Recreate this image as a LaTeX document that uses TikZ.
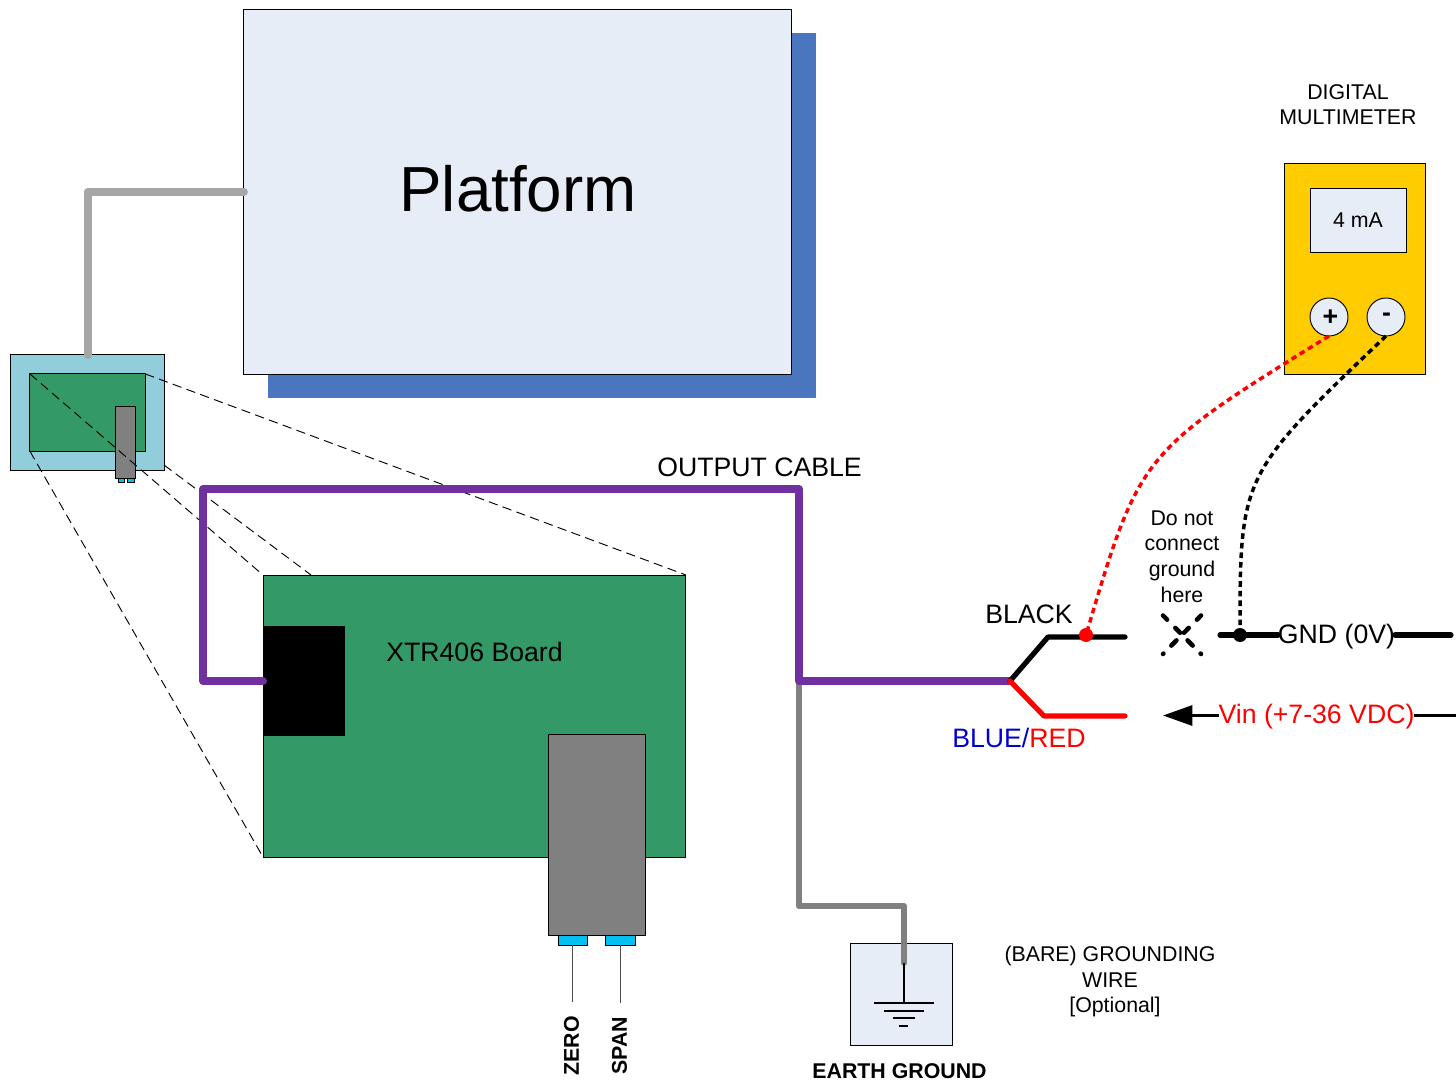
\documentclass[tikz,border=0pt]{standalone}
\usepackage{fontspec}
\setmainfont{Liberation Sans}
\usetikzlibrary{fit,arrows.meta,calc}
\definecolor{paleblue}{HTML}{E7EDF7}
\definecolor{shadowblue}{HTML}{4A76C0}
\definecolor{boardgreen}{HTML}{339966}
\definecolor{enclosure}{HTML}{92CDDC}
\definecolor{housing}{HTML}{808080}
\definecolor{potcyan}{HTML}{00C0F0}
\definecolor{cablepurple}{HTML}{7030A0}
\definecolor{wiregrey}{HTML}{A6A6A6}
\definecolor{meteryellow}{HTML}{FFCC00}
\definecolor{labelblue}{HTML}{0000CC}
\tikzset{
  box/.style={fit={#1},inner sep=0pt,outer sep=0pt,draw=black,line width=.7pt,rectangle},
  lab/.style={inner sep=0pt,outer sep=0pt,font=\fontsize{20}{24}\selectfont,text=black},
  smalllab/.style={inner sep=0pt,outer sep=0pt,align=center,font=\fontsize{16}{19.2}\selectfont,text=black},
  boldlab/.style={inner sep=0pt,outer sep=0pt,font=\fontsize{16}{19.2}\selectfont\bfseries,text=black},
  zoomline/.style={draw=black,line width=.7pt,dash pattern=on 7pt off 4pt},
  lead/.style={draw=black!70,line width=.75pt},
  cable/.style={draw=cablepurple,line width=6pt,line join=round,line cap=round},
  wire/.style={line width=3.9pt,line join=round,line cap=round},
  groundbar/.style={draw=black,line width=2.2pt},
  probe/.style={line width=2.6pt,dash pattern=on 4.2pt off 3pt,line cap=butt},
  nox/.style={draw=black,line width=3.4pt,line cap=round,dash pattern=on 4.4pt off 8.7pt on 5.1pt off 8pt on 5.5pt off 8.4pt on 1.5pt off 20pt},
  dot/.style={circle,minimum size=10.5pt,inner sep=0pt,outer sep=0pt},
  terminal/.style={circle,draw=black,fill=paleblue,line width=.7pt,minimum size=28.5pt,inner sep=0pt,outer sep=0pt},
  termsign/.style={inner sep=0pt,outer sep=0pt,font=\fontsize{20}{24}\selectfont\bfseries},
}
\begin{document}
\begin{tikzpicture}[x=.75pt,y=-.75pt]
\useasboundingbox (0,0) rectangle (1456,1080);
% platform
\node[fit={(268,33)(816,398)},inner sep=0pt,outer sep=0pt,fill=shadowblue] (shadow) {};
\node[box={(243.9,9.9)(791.2,374.1)},fill=paleblue] (platform) {};
\node[lab,font=\fontsize{47.8}{56}\selectfont] (platformtext) at (518,189) {Platform};
% small enclosure
\node[box={(10.9,354.9)(164.2,470.2)},fill=enclosure] (enclosure) {};
\node[box={(29.9,373.9)(145.2,451.2)},fill=boardgreen] (smallboard) {};
\node[box={(118,477)(124,482)},fill=potcyan,line width=.5pt] (smallpota) {};
\node[box={(127,477)(134,482)},fill=potcyan,line width=.5pt] (smallpotb) {};
\node[box={(115.9,406.9)(135.2,478)},fill=housing] (smallhousing) {};
\draw[wiregrey,line width=6pt,line join=round,line cap=round] (platform.west) -| (enclosure.north);
% main board
\coordinate (enclosurelow) at (164,465);
\node[box={(263,575)(685.9,857)},fill=boardgreen] (board) {};
\coordinate (boardtop) at (311,575);
\draw[zoomline] (smallboard.north east) -- (board.north east);
\draw[zoomline] (smallboard.north west) -- (board.north west);
\draw[zoomline] (enclosurelow) -- (boardtop);
\draw[zoomline] (smallboard.south west) -- (board.south west);
\node[fit={(263,626)(345,736)},inner sep=0pt,outer sep=0pt,fill=black] (connector) {};
\node[lab] (boardtext) at (474.5,652) {XTR406 Board};
\node[box={(558,935)(587,945)},fill=potcyan] (zeropot) {};
\node[box={(605,935)(635,945)},fill=potcyan] (spanpot) {};
\node[box={(548,734)(645,935)},fill=housing] (housing) {};
\coordinate (zeroend) at (572,1002);
\coordinate (spanend) at (620,1003);
\draw[lead] (zeropot.south -| zeroend) -- (zeroend);
\draw[lead] (spanpot.south -| spanend) -- (spanend);
\node[boldlab,rotate=90] (zerotext) at (571.5,1046) {ZERO};
\node[boldlab,rotate=90] (spantext) at (619.5,1046) {SPAN};
% cable
\coordinate (split) at (1010,681);
\coordinate (cableleft) at (203,489);
\coordinate (cableright) at (799,489);
\coordinate (cabledrop) at (799,681);
% earth
\node[box={(850,943)(952,1045)},fill=paleblue] (earth) {};
\coordinate (bare) at (904,963);
\coordinate (g1) at (904,1003);
\draw[housing,wire,line width=4.5pt] (cabledrop) |- (904,906) -- (bare);
\draw[black,line width=2.2pt] (bare) -- (g1);
\draw[groundbar] (874,1003) -- (934,1003);
\draw[groundbar] (884,1011) -- (924,1011);
\draw[groundbar] (893,1018) -- (915,1018);
\draw[groundbar] (899,1026) -- (908,1026);
\draw[cable] (connector.west) -| (cableleft) -- (cableright) -- (cabledrop) -- (split);
\node[lab] (outputtext) at (759.5,467) {OUTPUT CABLE};
\node[boldlab] (earthtext) at (899.5,1071) {EARTH GROUND};
\node[smalllab] (grounding) at (1110,981.5) {(BARE) GROUNDING\\WIRE\\\hspace*{7.5pt}[Optional]};
% leads
\coordinate (blackbend) at (1048,637);
\coordinate (blackend) at (1125,637);
\coordinate (redbend) at (1044,716);
\coordinate (redend) at (1125,716);
\draw[black,wire] (split) -- (blackbend) -- (blackend);
\draw[red,wire] (split) -- (redbend) -- (redend);
\node[lab] (blacktext) at (1029,614) {BLACK};
\node[lab] (bluered) at (1019,738) {\textcolor{labelblue}{BLUE/}\textcolor{red}{RED}};
% meter
\node[box={(1284,163)(1425,374)},fill=meteryellow] (meter) {};
\node[box={(1310,188)(1406,252)},fill=paleblue] (screen) {};
\node[smalllab] (screentext) at (1358,220) {4 mA};
\node[terminal] (plus) at (1329,317) {};
\node[terminal] (minus) at (1386,317) {};
\node[termsign] (plussign) at (1330.5,318) {+};
\node[termsign] (minussign) at (1386.5,317) {-};
\node[smalllab] (metertext) at (1348,104.5) {DIGITAL\\MULTIMETER};
% no ground note
\node[smalllab] (note) at (1182,556.5) {Do not\\connect\\ground\\here};
\coordinate (xa) at (1163,615.5);
\coordinate (xb) at (1201,654);
\coordinate (xc) at (1201,615.5);
\coordinate (xd) at (1163,654);
\draw[nox] (xa) -- (xb);
\draw[nox] (xc) -- (xd);
% GND
\node[lab] (gndtext) at (1336.5,637) {GND (0V)};
\coordinate (gndleft) at (1220,635);
\coordinate (gndright) at (1451,635);
\node[dot,fill=black] (gnddot) at (1240,635) {};
\draw[black,wire] (gndleft) -- (gndleft -| gndtext.west);
\draw[black,wire] (gndright -| gndtext.east) -- (gndright);
% Vin
\node[lab,text=red] (vintext) at (1316.5,717) {Vin (+7-36 VDC)};
\coordinate (vinarrow) at (1163,715.5);
\coordinate (vinright) at (1456,715.5);
\draw[black,line width=2.2pt,-{Stealth[length=22pt,width=15pt,inset=0pt]}] (vintext.west |- vinarrow) -- (vinarrow);
\draw[black,line width=2.2pt] (vintext.east |- vinright) -- (vinright);
% probes
\node[dot,fill=red] (reddot) at (1086,635) {};
\coordinate (redctrl) at (1140,453);
\coordinate (blackctrl) at (1240,475);
\draw[red,probe] (plus.south) .. controls (redctrl) and (redctrl) .. (reddot.center);
\draw[black,probe] (minus.south) .. controls (blackctrl) and (blackctrl) .. (gnddot.center);
\end{tikzpicture}
\end{document}
